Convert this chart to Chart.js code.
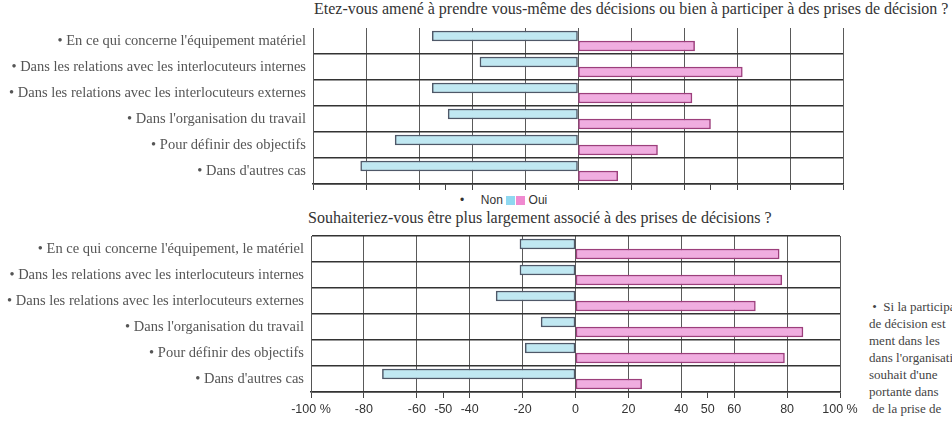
<!DOCTYPE html>
<html>
<head>
<meta charset="utf-8">
<script src="https://cdn.jsdelivr.net/npm/chart.js@4/dist/chart.umd.min.js"></script>
<style>
    body { margin: 0; background: #fff; width: 952px; height: 428px; overflow: hidden; position: relative; }
    .txt { position: absolute; white-space: nowrap; color: #333; font-family: "Liberation Serif", serif; }
    canvas { position: absolute; left: 0; }
    .sq { display: inline-block; width: 9px; height: 9px; vertical-align: -1px; }
</style>
</head>
<body>
<div class="txt" style="left:314px;top:0px;font-size:16px;">Etez-vous amené à prendre vous-même des décisions ou bien à participer à des prises de décision ?</div>
<div class="txt" style="left:460px;top:193px;font-size:12px;font-family:'Liberation Sans',sans-serif;">•&nbsp;&nbsp;&nbsp;&nbsp;&nbsp;Non <span class="sq" style="background:#8fd8f0"></span><span class="sq" style="background:#f08ad0;margin-left:1px"></span> Oui</div>
<div class="txt" style="left:308px;top:209px;font-size:16px;">Souhaiteriez-vous être plus largement associé à des prises de décisions ?</div>
<div class="txt" style="left:869px;top:298px;font-size:13px;line-height:17px;color:#444;">
    &nbsp;•&nbsp;&nbsp;Si la participation<br>de décision est<br>ment dans les<br>dans l'organisation<br>souhait d'une<br>portante dans<br>&nbsp;de la prise de
</div>
<canvas id="chartTop" width="952" height="200" style="top:0"></canvas>
<canvas id="chartBottom" width="952" height="208" style="top:220px"></canvas>
<script>
// Catégories
const categoriesTop = [
    '• En ce qui concerne l\'équipement matériel',
    '• Dans les relations avec les interlocuteurs internes',
    '• Dans les relations avec les interlocuteurs externes',
    '• Dans l\'organisation du travail',
    '• Pour définir des objectifs',
    '• Dans d\'autres cas'
];
const categoriesBottom = [
    '• En ce qui concerne l\'équipement, le matériel',
    '• Dans les relations avec les interlocuteurs internes',
    '• Dans les relations avec les interlocuteurs externes',
    '• Dans l\'organisation du travail',
    '• Pour définir des objectifs',
    '• Dans d\'autres cas'
];

// Valeurs en % (Non à gauche, Oui à droite)
const nonTop = [-55, -37, -55, -49, -69, -82];
const ouiTop = [44, 62, 43, 50, 30, 15];
const nonBottom = [-21, -21, -30, -13, -19, -73];
const ouiBottom = [77, 78, 68, 86, 79, 25];

// Graduations de l'axe horizontal
const xTicks = [-100, -80, -60, -50, -40, -20, 0, 20, 40, 50, 60, 80, 100];

function makeConfig(labels, non, oui, opts) {
    return {
        type: 'bar',
        data: {
            labels: labels,
            datasets: [
                {
                    label: 'Non',
                    data: non,
                    backgroundColor: '#c0e8f2',
                    borderColor: '#4f5868',
                    borderWidth: 1.5,
                    borderSkipped: false,
                    barThickness: 10,
                    categoryPercentage: 0.8
                },
                {
                    label: 'Oui',
                    data: oui,
                    backgroundColor: '#f0ade0',
                    borderColor: '#9c3f7c',
                    borderWidth: 1.5,
                    borderSkipped: false,
                    barThickness: 10,
                    categoryPercentage: 0.8
                }
            ]
        },
        options: {
            responsive: false,
            devicePixelRatio: 1,
            animation: false,
            indexAxis: 'y',
            layout: { padding: opts.padding },
            plugins: {
                legend: { display: false },
                tooltip: { enabled: false }
            },
            scales: {
                x: {
                    type: 'linear',
                    min: -100,
                    max: 100,
                    afterBuildTicks: scale => { scale.ticks = xTicks.map(v => ({ value: v })); },
                    afterFit: scale => { scale.height = opts.xHeight; },
                    ticks: {
                        display: opts.showTicks,
                        autoSkip: false,
                        maxRotation: 0,
                        padding: 4,
                        color: '#333',
                        font: { family: 'Liberation Sans', size: 12.5 },
                        callback: v => v === -100 ? '-100 %' : (v === 100 ? '100 %' : v)
                    },
                    grid: {
                        color: ctx => (ctx.tick && Math.abs(ctx.tick.value) === 50) ? 'rgba(0,0,0,0)' : '#5a5a5a',
                        tickColor: '#444',
                        tickLength: 6,
                        lineWidth: 1
                    },
                    border: { display: true, color: '#333', width: 1.5 }
                },
                y: {
                    afterFit: scale => { scale.width = opts.yWidth; },
                    ticks: {
                        padding: 7,
                        color: '#555',
                        font: { family: 'Liberation Serif', size: 14.5 }
                    },
                    grid: {
                        color: ctx => (opts.hideTopLine && ctx.index === 0) ? 'rgba(0,0,0,0)' : '#333',
                        lineWidth: 1.5,
                        drawTicks: false
                    },
                    border: { display: true, color: '#555', width: 1 }
                }
            }
        }
    };
}

new Chart(document.getElementById('chartTop').getContext('2d'),
    makeConfig(categoriesTop, nonTop, ouiTop, {
        padding: { top: 28, right: 109, bottom: 6, left: 0 },
        xHeight: 10,
        yWidth: 313,
        showTicks: false,
        hideTopLine: true
    }));

new Chart(document.getElementById('chartBottom').getContext('2d'),
    makeConfig(categoriesBottom, nonBottom, ouiBottom, {
        padding: { top: 16, right: 112, bottom: 6, left: 0 },
        xHeight: 30,
        yWidth: 311,
        showTicks: true,
        hideTopLine: false
    }));
</script>
</body>
</html>
